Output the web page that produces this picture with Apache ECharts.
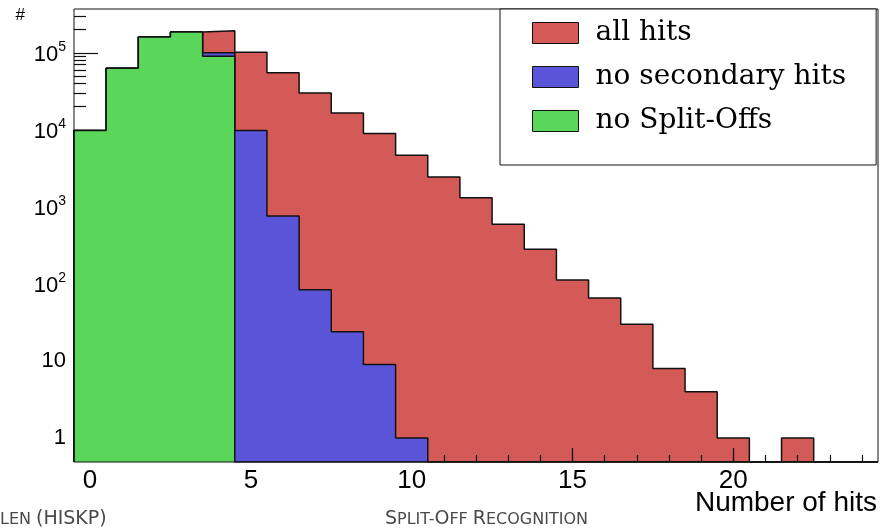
<!DOCTYPE html>
<html>
<head>
<meta charset="utf-8">
<script src="https://cdn.jsdelivr.net/npm/echarts@6/dist/echarts.min.js"></script>
<style>
  html, body { margin: 0; padding: 0; background: #ffffff; }
  #chart { width: 880px; height: 528px; }
</style>
</head>
<body>
<div id="chart"></div>
<script>
// Unit-width bins centred on the number of hits per cluster
const binCenters = [0, 1, 2, 3, 4, 5, 6, 7, 8, 9, 10, 11, 12, 13, 14, 15, 16, 17, 18, 19, 20, 21, 22, 23, 24];

// Entries per bin
const allHits         = [9800, 63000, 160000, 186000, 193000, 102000, 55000, 30000, 16500, 8950, 4700, 2450, 1320, 596, 282, 113, 66, 30, 8, 4, 1, 0, 1, 0, 0];
const noSecondaryHits = [9800, 63000, 160000, 186000, 100000, 9800, 764, 84, 24, 9, 1, 0, 0, 0, 0, 0, 0, 0, 0, 0, 0, 0, 0, 0, 0];
const noSplitOffs     = [9800, 63000, 160000, 186000, 90000, 0, 0, 0, 0, 0, 0, 0, 0, 0, 0, 0, 0, 0, 0, 0, 0, 0, 0, 0, 0];

const seriesNames = ['all hits', 'no secondary hits', 'no Split-Offs'];

// Axis ticks
const xMajorTicks = [0, 5, 10, 15, 20];
const xMinorTicks = [0, 1, 2, 3, 4, 5, 6, 7, 8, 9, 10, 11, 12, 13, 14, 15, 16, 17, 18, 19, 20, 21, 22, 23, 24];
const yMajorTicks = [1, 10, 100, 1000, 10000, 100000];
const yMinorTicks = [2, 3, 4, 5, 6, 7, 8, 9,
                     20, 30, 40, 50, 60, 70, 80, 90,
                     200, 300, 400, 500, 600, 700, 800, 900,
                     2000, 3000, 4000, 5000, 6000, 7000, 8000, 9000,
                     20000, 30000, 40000, 50000, 60000, 70000, 80000, 90000,
                     200000, 300000];

// Axis ranges
const xMin = -0.5, xMax = 24.5;
const yMin = 0.49, yMax = 370000;

const xTitle = 'Number of hits';
const yTitle = '#';

const fills = { red: '#d45a57', blue: '#5a54d8', green: '#5ad65a' };

// Outline of a filled histogram: steps along the bin edges, empty bins rest on the axis floor
function histogramOutline(values) {
  const pts = [[binCenters[0] - 0.5, yMin]];
  values.forEach(function (v, i) {
    const y = v > 0 ? v : yMin;
    pts.push([binCenters[i] - 0.5, y], [binCenters[i] + 0.5, y]);
  });
  pts.push([binCenters[binCenters.length - 1] + 0.5, yMin]);
  return pts;
}

function histSeries(name, values, color, z) {
  return {
    name: name,
    type: 'line',
    xAxisIndex: 0,
    yAxisIndex: 0,
    data: histogramOutline(values),
    showSymbol: false,
    symbol: 'none',
    silent: true,
    clip: true,
    z: z,
    itemStyle: { color: color },
    lineStyle: { color: '#111111', width: 1.5 },
    areaStyle: { color: color, opacity: 1 }
  };
}

function powerLabel(v) {
  const n = Math.round(Math.log10(v));
  if (n === 0) return '1';
  if (n === 1) return '10';
  return '{b|10}{s|' + n + '}';
}

const footerRich = {
  C: { fontFamily: 'DejaVu Sans', fontWeight: 'normal', fontSize: 19, color: '#4a4a4a' },
  c: { fontFamily: 'DejaVu Sans', fontWeight: 'normal', fontSize: 16, color: '#4a4a4a' }
};

const chart = echarts.init(document.getElementById('chart'), null, { renderer: 'canvas' });

chart.setOption({
  animation: false,
  backgroundColor: '#ffffff',
  title: [
    {
      text: '{c|LEN} {C|(HISKP)}',
      left: -5, top: 505,
      textStyle: { fontWeight: 'normal', rich: footerRich }
    },
    {
      text: '{C|S}{c|PLIT-}{C|O}{c|FF} {C|R}{c|ECOGNITION}',
      left: 380, top: 505,
      textStyle: { fontWeight: 'normal', rich: footerRich }
    },
    {
      // x-axis title, set below the right end of the axis
      text: xTitle,
      right: 3, top: 489,
      padding: 0,
      textStyle: { fontFamily: 'Liberation Sans', fontWeight: 'normal', fontSize: 28, color: '#000000' }
    }
  ],
  grid: {
    left: 74, top: 9, right: 2, bottom: 66,
    containLabel: false,
    outerBoundsMode: 'none',
    show: true,
    z: 10,
    borderColor: '#111111',
    borderWidth: 1,
    backgroundColor: 'transparent'
  },
  legend: {
    data: [
      { name: seriesNames[0], itemStyle: { color: fills.red } },
      { name: seriesNames[1], itemStyle: { color: fills.blue } },
      { name: seriesNames[2], itemStyle: { color: fills.green } }
    ],
    orient: 'vertical',
    left: 500, top: 9,
    z: 20,
    icon: 'rect',
    itemWidth: 46,
    itemHeight: 21,
    itemGap: 16,
    padding: [10, 30, 30, 32],
    backgroundColor: '#ffffff',
    borderColor: '#111111',
    borderWidth: 1,
    selectedMode: false,
    itemStyle: { borderColor: '#111111', borderWidth: 1 },
    textStyle: {
      fontFamily: 'DejaVu Serif',
      fontSize: 28,
      lineHeight: 21,
      color: '#000000',
      padding: [0, 0, 0, 12]
    }
  },
  xAxis: [
    {
      // minor ticks, drawn above the red fill only
      type: 'value', min: xMin, max: xMax, position: 'bottom', z: 3,
      axisLine: { show: false, onZero: false },
      splitLine: { show: false },
      axisTick: { show: true, inside: true, length: 7, customValues: xMinorTicks, lineStyle: { color: '#111111', width: 1.2 } },
      axisLabel: { show: false }
    },
    {
      // major ticks and labels
      type: 'value', min: xMin, max: xMax, position: 'bottom', z: 3,
      axisLine: { show: false, onZero: false },
      splitLine: { show: false },
      axisTick: { show: true, inside: true, length: 14, customValues: xMajorTicks, lineStyle: { color: '#111111', width: 1.2 } },
      axisLabel: { show: true, customValues: xMajorTicks, margin: 6, fontFamily: 'Liberation Sans', fontSize: 26, color: '#000000' }
    }
  ],
  yAxis: [
    {
      type: 'log', logBase: 10, min: yMin, max: yMax, position: 'left', z: 3,
      axisLine: { show: false, onZero: false },
      splitLine: { show: false },
      minorTick: { show: false },
      axisTick: { show: true, inside: true, length: 24, customValues: yMajorTicks, lineStyle: { color: '#111111', width: 1.2 } },
      axisLabel: {
        show: true, customValues: yMajorTicks, margin: 8,
        formatter: powerLabel,
        fontFamily: 'Liberation Sans', fontSize: 22, color: '#000000',
        rich: {
          b: { fontFamily: 'Liberation Sans', fontSize: 22, color: '#000000', lineHeight: 26, verticalAlign: 'bottom' },
          s: { fontFamily: 'Liberation Sans', fontSize: 14, color: '#000000', lineHeight: 14, verticalAlign: 'top' }
        }
      },
      name: yTitle,
      nameLocation: 'end',
      nameGap: 2,
      nameTextStyle: { fontFamily: 'Liberation Sans', fontSize: 17, color: '#000000', align: 'right', verticalAlign: 'top', padding: [0, 49, 0, 0] }
    },
    {
      type: 'log', logBase: 10, min: yMin, max: yMax, position: 'left', z: 3,
      axisLine: { show: false, onZero: false },
      splitLine: { show: false },
      axisTick: { show: true, inside: true, length: 12, customValues: yMinorTicks, lineStyle: { color: '#111111', width: 1.2 } },
      axisLabel: { show: false }
    }
  ],
  series: [
    histSeries(seriesNames[0], allHits, fills.red, 2),
    histSeries(seriesNames[1], noSecondaryHits, fills.blue, 4),
    histSeries(seriesNames[2], noSplitOffs, fills.green, 5)
  ]
});
</script>
</body>
</html>
